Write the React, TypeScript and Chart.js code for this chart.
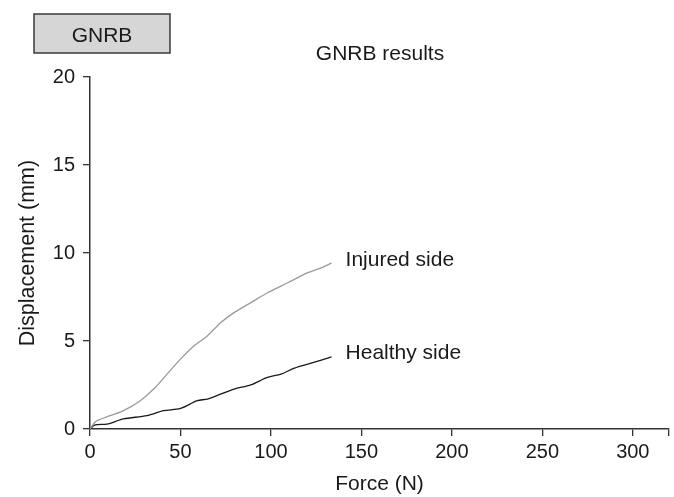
import React, { useEffect, useRef } from "react";
import { Chart, registerables } from "chart.js";

Chart.register(...registerables);

const injuredForce = [0, 2, 3.7, 11.1, 18.5, 27.8, 35.2, 42.6, 50, 57.4, 64.8, 72.2, 79.6, 88.9, 98.1, 109.3, 120.4, 127.8, 133.5];
const injuredDisp = [0, 0.3, 0.47, 0.76, 1.04, 1.61, 2.27, 3.12, 3.97, 4.72, 5.29, 6.04, 6.61, 7.18, 7.74, 8.31, 8.88, 9.16, 9.42];

const healthyForce = [0, 2.8, 9.3, 18.5, 31.5, 40.7, 50, 59.3, 64.8, 72.2, 79.6, 88.9, 98.1, 105.6, 113, 122.2, 133.5];
const healthyDisp = [0, 0.23, 0.28, 0.57, 0.76, 1.04, 1.17, 1.61, 1.7, 1.98, 2.27, 2.51, 2.93, 3.12, 3.46, 3.74, 4.1];

const xTicks = [0, 50, 100, 150, 200, 250, 300];
const xAxisEnd = 320;
const yTicks = [0, 5, 10, 15, 20];

const seriesLabels = ["Injured side", "Healthy side"];
const chartTitle = "GNRB results";
const boxLabel = "GNRB";
const xTitle = "Force (N)";
const yTitle = "Displacement (mm)";

const FONT = '"Liberation Sans", Arial, sans-serif';

const overlayPlugin = {
  id: "overlay",
  afterDraw(chart: any) {
    const ctx = chart.ctx;
    ctx.save();
    // GNRB box
    ctx.fillStyle = "#d6d6d6";
    ctx.fillRect(34, 14, 136, 39);
    ctx.strokeStyle = "#3a3a3a";
    ctx.lineWidth = 1.5;
    ctx.strokeRect(34, 14, 136, 39);
    ctx.fillStyle = "#1a1a1a";
    ctx.font = `21px ${FONT}`;
    ctx.textAlign = "center";
    ctx.textBaseline = "alphabetic";
    ctx.fillText(boxLabel, 102, 42);
    // title
    ctx.fillText(chartTitle, 380, 60);
    // series labels at the end of each line
    ctx.textAlign = "left";
    const xs = chart.scales.x;
    const ys = chart.scales.y;
    const iEnd = injuredDisp[injuredDisp.length - 1];
    const hEnd = healthyDisp[healthyDisp.length - 1];
    const lx = xs.getPixelForValue(injuredForce[injuredForce.length - 1]) + 14;
    ctx.fillText(seriesLabels[0], lx, ys.getPixelForValue(iEnd) + 3);
    ctx.fillText(seriesLabels[1], lx, ys.getPixelForValue(hEnd) + 2);
    ctx.restore();
  },
};

export default function App() {
  const ref = useRef<HTMLCanvasElement>(null);
  useEffect(() => {
    const canvas = ref.current;
    if (!canvas) return;
    const tickFont = { family: FONT, size: 20 };
    const chart = new Chart(canvas, {
      type: "line",
      data: {
        datasets: [
          {
            label: seriesLabels[0],
            data: injuredForce.map((x, i) => ({ x, y: injuredDisp[i] })),
            borderColor: "#9a9a9a",
            borderWidth: 1.3,
            pointRadius: 0,
            tension: 0.3,
          },
          {
            label: seriesLabels[1],
            data: healthyForce.map((x, i) => ({ x, y: healthyDisp[i] })),
            borderColor: "#1a1a1a",
            borderWidth: 1.3,
            pointRadius: 0,
            tension: 0.3,
          },
        ],
      },
      options: {
        animation: false,
        responsive: false,
        devicePixelRatio: 1,
        layout: { padding: { top: 77, right: 5, left: 0, bottom: 0 } },
        plugins: {
          legend: { display: false },
          title: { display: false },
          tooltip: { enabled: false },
        },
        scales: {
          x: {
            type: "linear",
            min: 0,
            max: xAxisEnd,
            afterBuildTicks: (s: any) => {
              s.ticks = [...xTicks, xAxisEnd].map((v) => ({ value: v }));
            },
            afterFit: (s: any) => {
              s.height = 68;
            },
            ticks: {
              color: "#1a1a1a",
              font: tickFont,
              padding: 4,
              maxRotation: 0,
              autoSkip: false,
              callback: (v: any) => (xTicks.includes(Number(v)) ? String(v) : ""),
            },
            grid: {
              drawOnChartArea: false,
              drawTicks: true,
              tickLength: 7,
              color: "#333",
              lineWidth: 1.3,
            },
            border: { display: true, color: "#333", width: 1.5 },
            title: {
              display: true,
              text: xTitle,
              color: "#1a1a1a",
              font: { family: FONT, size: 21 },
              padding: { top: 6, bottom: 0 },
            },
          },
          y: {
            type: "linear",
            min: 0,
            max: 20,
            afterBuildTicks: (s: any) => {
              s.ticks = yTicks.map((v) => ({ value: v }));
            },
            afterFit: (s: any) => {
              s.width = 90;
            },
            ticks: {
              color: "#1a1a1a",
              font: tickFont,
              padding: 8,
              autoSkip: false,
            },
            grid: {
              drawOnChartArea: false,
              drawTicks: true,
              tickLength: 7,
              color: "#333",
              lineWidth: 1.3,
            },
            border: { display: true, color: "#333", width: 1.5 },
            title: {
              display: true,
              text: yTitle,
              color: "#1a1a1a",
              font: { family: FONT, size: 21.5 },
              padding: { top: 15, bottom: 0 },
            },
          },
        },
      },
      plugins: [overlayPlugin],
    });
    return () => chart.destroy();
  }, []);
  return (
    <div style={{ position: "absolute", left: 0, top: 0, width: 674, height: 497, background: "#fff" }}>
      <canvas ref={ref} width={674} height={497} style={{ display: "block" }} />
    </div>
  );
}
